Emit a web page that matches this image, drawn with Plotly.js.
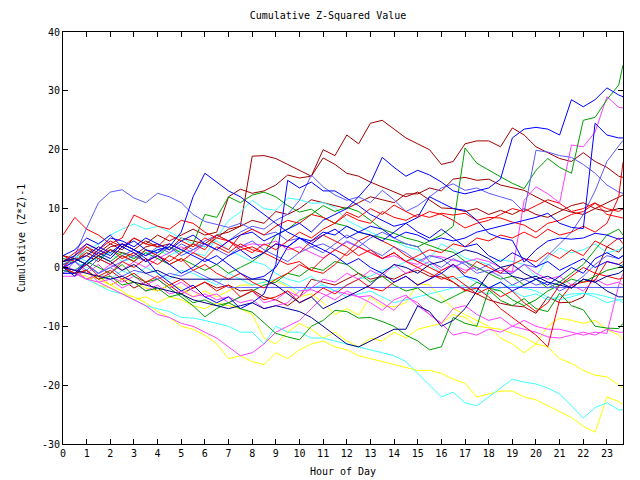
<!DOCTYPE html>
<html>
<head>
<meta charset="utf-8">
<script src="https://cdn.plot.ly/plotly-3.0.1.min.js"></script>
<style>html,body{margin:0;padding:0;background:#fff;}#chart{width:640px;height:480px;}</style>
</head>
<body>
<div id="chart"></div>
<script>
const hours = [0,0.5,1,1.5,2,2.5,3,3.5,4,4.5,5,5.5,6,6.5,7,7.5,8,8.5,9,9.5,10,10.5,11,11.5,
  12,12.5,13,13.5,14,14.5,15,15.5,16,16.5,17,17.5,18,18.5,19,19.5,20,20.5,21,21.5,22,22.5,23,23.5,23.68];
const xTickVals = [0,1,2,3,4,5,6,7,8,9,10,11,12,13,14,15,16,17,18,19,20,21,22,23];
const xTickText = ['0','1','2','3','4','5','6','7','8','9','10','11','12','13','14','15','16','17','18','19','20','21','22','23'];
const yTickVals = [-30,-20,-10,0,10,20,30,40];
const yTickText = ['-30','-20','-10','0','10','20','30','40'];

const dr1 = [0.5,1,3,2,3.5,4,3,4.5, 3.5,4,3,4,3.5,5,6.5,7, 18.9,19,18.5,17.5,16.5,15.5,20,19, 22.5,21,24.5,25,23.5,22,21,20, 17.5,18,21,21.5,21.5,20.5,23.7,22.5, 20.5,19.5,18.5,18,19.5,18,17,15.5, 15.3];
const dr2 = [2,1.5,3.5,2.5,4,3,5,4, 5.5,4.5,5.5,6.5,5.5,6,12,13.3, 12.6,13,14,15.7,15.2,15.5,18.6,17.5, 16,15.5,14.5,13.7,12.8,12,12.8,11.5, 10.1,10,9.5,10,9,9.7,9,10, 9,8.5,9.5,10.5,11,10,9.5,10, 9.9];
const dr3 = [-0.5,-1,-2,-1.5,-3,-2,-3.5,-2.5, -4,-3,-4.5,-3.5,-2.5,-3.5,-3,-4, -3.8,-5,-5.5,-6.5,-5,-2,-2.5,-3, -2,-1,-2,-1.5,-2,-1,-0.5,-1.5, -1.6,-2.5,-3.8,-4.5,-5.5,-6.1,-6.5,-6.7, -7.8,-5,-6,-5.9,-5,-1,3.5,2.6, 3.5];
const dr4 = [1,1.5,2,1,3,2.5,2,3.5, 4,3,5,4.5,4,5.5,6,7, 8,7.5,9.5,9,10,11.5,11,10.5, 10,11,12,11.5,11,12.5,12.5,13.5, 13,15,15.3,14.8,15,14,13.5,13.1, 12,11,10,9.4,9,10,11,12, 12.3];
const g1 = [0.5,1.5,0.5,2,1,2.5,1.5,3, 2,3.5,2.5,4,9,8.5,12,11, 12.3,12.8,12,10.5,9.4,9.9,8.5,7.5, 7,6,5.5,5,4.5,4,3.5,4.5, 5.5,7,20.3,17.7,16.5,15.4,14.3,13.4, 16.5,18.5,17,16,25,25.5,28.5,31, 34.4];
const g2 = [-0.5,-1,-0.5,-2,-1.5,-3,-2.5,-4, -3.5,-5,-4.5,-6,-5.5,-6.5,-6,-7, -7.6,-9.4,-11.2,-11.8,-12.3,-10,-9,-7.3, -7.5,-8.6,-8.5,-9.2,-10,-11.5,-12.5,-14, -13.5,-8.5,-9.5,-10,-3.8,-5.6,-6.5,-5.3, -7,-7.5,-4.4,-6.5,-7.2,-10,-10.3,-10.4, -9.5];
const g3 = [1.5,1,2.5,1.5,3,2,1,2.5, 1.5,0.5,1.5,0.5,-0.5,0.5,-1,0, 1,2.5,5.5,6.5,8,9,10.5,9.5, 10.2,9.5,8,6.5,5.8,5,4.5,3.8, 3,2.6,1,0,-1,-2,-1.5,-3, -2,-3.5,-2.5,-1,0.5,3,5.5,6.5, 5.5];
const g4 = [0,-0.5,1,0,-1,0.5,-1.5,-2.5, -2,-3.5,-5,-6.5,-8.4,-7,-6,-5, -4,-3,-2.5,-1,-1.5,0,-0.5,1, 0.5,-1,-2.5,-1.5,-3,-4,-3.5,-5, -6,-5,-4,-2.5,-3.5,-4,-5.5,-6.5, -5.5,-4,-3,-2,-2.5,-1.5,-0.5,0, 0.5];
const b1 = [1,2,4,3,5,4.5,3.5,5, 4,3,4.5,5.5,4,3,4.5,5.5, 6,4.5,5.5,6.5,7.5,6,8,9, 10,12,14.3,18.7,17,15.5,16.5,15.7, 14.5,13,12.5,13,13.5,15,22,23.5, 23.8,23.5,22.5,28.5,27.3,28.5,30.5,29.3, 29];
const b2 = [0,1,2,3.5,2.5,4,3,2, 3,3.5,6,12,16,14.5,13,12, 10.5,9,7.5,6,5,4,3,2, 0.5,1.5,0,-1,-2.5,-1.5,-3,-2, -1,0.5,-1.5,-2,-3.5,-2.5,-4,-3, -2,-3,-1.5,0,-1,1.5,2.5,1.5, 2];
const b3 = [-1,-1,1,2.5,1.5,3.5,2.5,1, 2,0.5,-1,0,1.5,0.5,2,3, 1.5,2.5,4,3.5,5,4,5.5,6.5, 5,6,7,6.5,5,6,5.5,4.5, 5,4.5,5,6,6.5,7,7.5,8, 8.5,9.2,7.5,6.8,6.6,24.5,22.5,22, 22];
const b4 = [2,3,5,4,5.5,3.5,4.5,3, 2.5,4,3,2,1,2,0.5,-1, -2,-1.5,0,3.5,5,4.5,6,5.5, 7,6,5.5,4.5,6,7.5,8.5,12, 11,10,9.7,8,5.8,5,4.6,0.9, 3,4.5,5,4.8,5,5.8,5.5,4.8, 5];
const b5 = [0,-1.5,1,3,2,4,3,1.5, -1,-2.5,-4,-3,-5,-6,-5,-7, -6,-4.5,0.5,14.8,13.5,14.5,13,13, 11.8,10.5,9,8,7,7.5,6,5, 6.5,5,3.5,4,2,1,2.5,1.5, 0.1,1,-0.5,0.5,1.5,0,1,0.5, 0.1];
const lb1 = [0,2,6.7,11,12.8,13.2,11.8,11, 12.6,12,11,9,7.8,7.3,6.8,7.5, 6.5,5.5,6,4.5,5,3.5,4,3, 4.5,3.5,5,6,5,4,3.5,1, 0,1.5,0.5,-1,-0.5,-1.5,-3,-2, -3,-2.5,-4,-3,-1.5,0.5,2,1.5, 2];
const lb2 = [-1,1,-0.5,1.5,0.5,2,3,2, 3.5,2.5,4,3,4.5,5.5,4.5,6, 7,6.5,8,9,11.4,15.7,13.7,12.3, 11.4,12,11,13.1,11.5,9.5,10.5,12, 13.5,14.2,13.1,13.5,12.6,12,11.4,9.4, 19.9,19.6,19,18.7,17.5,16,14,12.8, 12.6];
const lb3 = [0.5,1.5,0.5,-1,0,1,2,1, 2.5,3.5,2,3,4,3,2,3.5, 4.5,3,2,1,2.5,3.5,2.5,4, 5.5,4.5,3,2,3.5,2.5,1,2, 1.5,0,1,-0.5,0.5,-1,-1,0.5, 0,2,4,6,9,13,18,20.5, 21.6];
const lbf = [0,-0.5,0.5,-1,0,-1.5,-0.5,-1, -2,-1,-1.5,-0.5,-1.5,-2.5,-3.4,-3.4, -3.4,-3.4,-3.4,-3.4,-3.4,-3.4,-3.4,-3.4, -3.4,-3.4,-3.4,-3.4,-3.4,-3.4,-3.4,-3.4, -3.4,-3.4,-3.4,-3.4,-3.4,-3.4,-3.4,-3.4, -3.4,-3.4,-3.4,-3.4,-3.4,-3.4,-3.4,-3.4, -3.4];
const nv1 = [0,-0.5,-1,-1.5,-2,-1.5,-2.5,-3, -3.5,-4,-4.5,-5.5,-6,-6.5,-7,-6.5, -6,-7,-6.5,-7,-7.5,-8.5,-10,-11.5, -13,-13.5,-12.5,-11.5,-10.5,-10.5,-6.5,-7.5, -10,-9,-7,-4,-1,0,-1.5,-2, -1.5,-2.5,-3,-3.5,-2,-2.5,-4,-5, -5];
const nv2 = [1,1.5,0.5,2,1,-0.5,0.5,-1, -0.5,-1.5,-2,-2,-2,-2,-2,-2, -2,-2,-3,-4.5,-6,-5,-7,-6, -5,-4,-3,-1,0.5,0,-1,0.5, 1,2,3,2.5,1.5,0,0.5,-1, -2,-1.5,-2.5,-3.5,-2,-2.5,-1.5,-1, -0.5];
const r1 = [0,-1,-0.5,-2,-1,1,0,1.5, 0.5,2,1,2.5,1.5,3.5,2.5,4, 3,2.5,4,3.5,2.5,4.5,5.5,4.5, 3.5,2,3,1.5,2.5,1,2,3, 2.5,4,3.5,5,4.5,5.5,5,6, 5,6.5,5.5,6,7,6,7.5,12, 17.9];
const r2 = [5.5,8.5,6.5,5.5,4,5,8.9,8, 7,6.5,8,7.5,6,5,4.5,3, 3.5,2.5,1.5,0.5,1,-0.5,-1,0.5, 2.5,4.5,5.5,4.5,3.5,2,1,0, -1,-2.5,-4,-3.5,-5,-7,-8.5,-10, -11.5,-13.5,-5.5,-3,-2.5,-2.2,1,0.5, 1];
const r3 = [1,2.5,4,3,4.5,3.5,5,4, 3.5,5.5,4.5,3.5,5,4,3,5.5, 6.5,5.5,7,8,7.5,9,8.5,7.5, 9,8,7.5,9.5,8.5,8,9,8.5, 9.2,8.9,9.2,8,8.5,8.4,7.7,7.2, 6,7.5,8,9,9.5,10.9,10,9.5, 10];
const r5 = [0,2,3.5,2,3,1.5,2.5,1, 2,0.5,1.5,-0.5,0.5,-1,-2,-1, -2.5,-3.5,-2,-1,0.5,-0.5,1.5,3, 2,3.5,2.5,1.5,2.5,1,0,-1, -2,-1.5,-3,-4.5,-3.5,-5,-4,-6, -7.5,-6,-3,-1.5,0,-1,-1.5,-2, -1.8];
const r6 = [2,1,2.5,1.5,0.5,2,1,3, 2,1,2.5,4,3,5.5,4.5,3.5, 2.5,4,3,4.5,6,5,6.5,7.5, 9.4,8.5,10,9,10.6,9.5,8.5,9.5, 9,8,6.7,7.5,8,9,10,9.5, 10.5,11.5,10.9,9.5,10,11,9,8.5, 8.4];
const r7 = [0,-1,0.5,-1.5,-0.5,-2,-1,-2.5, -1.5,-3,-2,-3.5,-2.5,-4,-3,-5, -4,-5.5,-5,-4,-6,-5,-3.5,-4.5, -3,-2,-3.5,-4,-2.5,-1.5,-3,-2, -0.5,0.5,-1,1,0,-1,0.5,1.5, 1,2.5,1.5,3,2,4.5,3.5,5, 4];
const m1 = [0,1,-1,0.5,-1.5,-2.5,-1.5,-3, -2,-3.5,-2.5,-4,-5,-4.5,-6,-5, -4,-6,-5.5,-4,-5,-3.5,-2,-2.5, -1,-2,-0.5,-1.5,0.5,-1,0,1, -0.5,0.5,-0.5,0,-1,-0.5,-0.8,11.4, 13.7,12.5,11,20.8,20.5,23,29,27.2, 27.1];
const m2 = [-1,-1,-2,-2.5,-3.5,-4.5,-5.5,-6.5, -8,-8.5,-9.5,-10,-11,-12,-13.5,-15, -14.5,-13,-11,-10,-9,-7,-5,-4, -4.5,-5,-4.8,-6,-7.3,-5,-6,-8, -9.5,-11.5,-11,-11.5,-10.5,-11,-10,-9, -10,-10.5,-10.5,-11,-11.5,-11,-11.2,-3, -1];
const m3 = [0.5,-0.5,-2,-1,0.5,-0.5,1,0, 1.5,2.5,3.5,2.5,4,3,4.5,3.5, 4,3.8,4.5,3,3.5,2.5,1.6,3, 4.3,3.5,2.5,1.5,2,1,0.5,2, 1.8,1.2,0.9,1.5,1,0,-0.8,0.5, -1,-2,-1.5,-3,-4,-2,-3,-2.5, -3];
const m4 = [-1.5,-1.5,-0.5,-2.5,-2,-3.5,-2.5,-4, -3,-4.5,-4,-5,-4.5,-5.5,-5,-6, -5.5,-7,-6.5,-6,-4,-3.8,-4.5,-5.5, -4,-5,-6,-7.3,-5.5,-4.7,-6.5,-8, -9.5,-7,-6.5,-8,-9,-8.5,-10,-10.5, -11,-11.8,-12,-11.5,-11,-11.5,-10.5,-11, -11];
const c1 = [-0.5,-1,-2,-3,-4,-4.5,-5.5,-6.5, -7,-7.5,-8.5,-8.6,-9,-9.5,-10,-11, -11,-13,-10,-11,-11,-12,-12,-12.5, -13,-13.5,-14,-14.5,-15,-16,-18,-20, -22,-21.2,-23,-23.5,-22,-20.5,-19,-19.5, -19.8,-20.5,-21.5,-23.5,-25.6,-23.8,-23,-24.2, -24.2];
const c2 = [1.5,2,1,1.5,2.5,1,1.5,2.5, 3,2,3,2.5,2,5,8,9.4, 11.4,10,9.7,11.8,11.5,10.9,11,10.2, 8,7,6,5,4.5,3.5,3,1.5, 4,3,1.6,1,0.5,1.3,1,0.5, -1.6,1.6,3.3,2.5,3,4,2.5,3, 3.5];
const c3 = [0,1,0,-1,-2,-0.5,-1.5,0, -1,-2,-0.5,-1,-2,-3,-1,-2, -3,-2.5,-2,-3,-4,-3.5,-3,-4, -5,-4.5,-4,-5,-6,-5.5,-5,-4.5, -4,-3.5,-3,-4,-4.5,-3.5,-3,-3.5, -4,-5,-5.5,-5,-4.4,-4.5,-5,-5.5, -6];
const c4 = [0,1.5,3,4,5.5,6.5,7.4,6.5, 7,6,5,4,3.5,4.5,3,2, 1,0.5,-1,-2,-2.5,-1.5,-3,-4, -3,-2,-1.5,-0.5,0,1,1.5,0.5, -1,-2,-1.5,-2.5,-3.5,-2.5,-4,-5, -4.5,-5.5,-5,-4.5,-4.4,-5,-6,-5.5, -5.5];
const y1 = [0,-1,-1.5,-3,-3.5,-4.5,-5,-6, -7.5,-8.5,-10,-10.5,-11.5,-13,-15.5,-15, -16,-16.5,-14.5,-15.5,-14,-13,-12.5,-13.5, -14,-15,-15.5,-16,-16.5,-17,-17.5,-17.5, -18,-19,-19.7,-22,-21.5,-21,-21,-22, -22.5,-23.5,-24.5,-25.5,-27,-28,-22,-22.8, -23.3];
const y2 = [0,-0.5,-1,-2,-3,-4,-5.5,-5, -6,-5,-5.5,-6.5,-7,-6,-6.5,-7, -8,-12,-13,-11,-9.5,-10.5,-12,-11, -12.5,-13.5,-12,-12.5,-11,-12,-10.5,-10, -9.5,-8,-8.5,-10,-10.3,-10.5,-11.2,-11.9, -13,-13.5,-15.5,-16.3,-17.5,-18.3,-18.6,-20, -20.5];
const y3 = [0,-1,-2,-1.5,-3,-2,-2.5,-3.5, -4,-3,-3.5,-5,-4,-5,-4,-3, -3,-2.5,-2.2,-3.3,-5,-4.5,-6,-8, -7,-8.1,-5,-6.5,-6.7,-6,-2.7,-3, -5,-7,-8,-9,-10,-12,-13,-14.5, -13,-10,-8.6,-9,-9.5,-9,-10.5,-11.5, -12.3];

const RED='#ff0000', GREEN='#00a000', BLUE='#0000ff', MAG='#ff40ff', CYAN='#40ffff',
      DRED='#a00000', YEL='#ffff00', LBLUE='#5a5aff', NAVY='#000090';

const seriesList = [
  [dr1,DRED],[dr2,DRED],[dr3,DRED],[dr4,DRED],
  [y1,YEL],[y2,YEL],[y3,YEL],
  [c1,CYAN],[c2,CYAN],[c3,CYAN],[c4,CYAN],
  [m1,MAG],[m2,MAG],[m3,MAG],[m4,MAG],
  [g1,GREEN],[g2,GREEN],[g3,GREEN],[g4,GREEN],
  [lb1,LBLUE],[lb2,LBLUE],[lb3,LBLUE],[lbf,LBLUE],
  [r1,RED],[r2,RED],[r3,RED],[r5,RED],[r6,RED],[r7,RED],
  [b1,BLUE],[b2,BLUE],[b3,BLUE],[b4,BLUE],[b5,BLUE],
  [nv1,NAVY],[nv2,NAVY]
];

const traces = seriesList.map(function(s, i){
  if (s[0].length !== hours.length) throw new Error('series ' + i + ' has ' + s[0].length + ' values');
  return {x: hours, y: s[0], type: 'scatter', mode: 'lines',
          line: {color: s[1], width: 1}, hoverinfo: 'skip', showlegend: false};
});

const FONT = {family: '"DejaVu Sans Mono", "Liberation Mono", monospace', size: 10, color: '#000'};

const layout = {
  width: 640, height: 480,
  margin: {l: 63, r: 17, t: 32, b: 36, pad: 0},
  paper_bgcolor: '#fff', plot_bgcolor: '#fff',
  font: FONT,
  showlegend: false,
  title: {text: 'Cumulative Z-Squared Value', font: FONT, x: 328/640, xanchor: 'center',
          y: 1 - 15/480, yanchor: 'middle', yref: 'container'},
  xaxis: {range: [0, 23.68], tickvals: xTickVals, ticktext: xTickText,
          ticks: 'inside', ticklen: 5, tickcolor: '#000', tickwidth: 1,
          showline: true, linecolor: '#000', linewidth: 1, mirror: 'ticks',
          showgrid: false, zeroline: false, tickfont: FONT,
          title: {text: 'Hour of Day', font: FONT, standoff: 9}},
  yaxis: {range: [-30, 40], tickvals: yTickVals, ticktext: yTickText,
          ticks: 'inside', ticklen: 5, tickcolor: '#000', tickwidth: 1,
          showline: true, linecolor: '#000', linewidth: 1, mirror: 'ticks',
          showgrid: false, zeroline: false, tickfont: FONT,
          title: {text: 'Cumulative (Z*Z)-1', font: FONT, standoff: 14}}
};

Plotly.newPlot('chart', traces, layout, {staticPlot: true, displayModeBar: false});
</script>
</body>
</html>
